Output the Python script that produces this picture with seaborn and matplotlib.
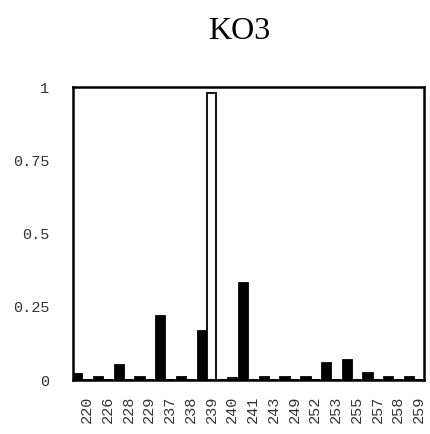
import seaborn as sns
import matplotlib.pyplot as plt
import pandas as pd

# allele frequencies, two samples (filled / open bars)
alleles = ['220', '226', '228', '229', '237', '238', '239', '240', '241',
           '243', '249', '252', '253', '255', '257', '258', '259']
filled = [0.02, 0.01, 0.05, 0.01, 0.22, 0.01, 0.167, 0.0, 0.33,
          0.01, 0.01, 0.01, 0.057, 0.068, 0.023, 0.01, 0.01]
opened = [0.0, 0.0, 0.0, 0.0, 0.0, 0.0, 0.98, 0.006, 0.0,
          0.0, 0.0, 0.0, 0.0, 0.0, 0.0, 0.0, 0.0]
y_ticks = [0, 0.25, 0.5, 0.75, 1]
y_labels = ['0', '0.25', '0.5', '0.75', '1']

df = pd.DataFrame({
    'allele': alleles * 2,
    'freq': filled + opened,
    'set': ['filled'] * len(alleles) + ['open'] * len(alleles),
})

sns.set_style('white')
fig = plt.figure(figsize=(4.3, 4.34), dpi=100)
ax = fig.add_axes([0.170, 0.1244, 0.816, 0.6751])
sns.barplot(data=df, x='allele', y='freq', hue='set', order=alleles,
            hue_order=['filled', 'open'], palette={'filled': 'black', 'open': 'white'},
            saturation=1, width=0.9, edgecolor='black', linewidth=1.3,
            legend=False, ax=ax)

ax.set_xlim(-0.45, 16.47)
ax.set_ylim(0, 1)
ax.set_xticks([i + 0.225 for i in range(len(alleles))])
ax.set_xticklabels(alleles, rotation=90, family='Liberation Mono', fontsize=11, color='#333333')
ax.set_yticks(y_ticks)
ax.set_yticklabels(y_labels, family='Liberation Mono', fontsize=11, color='#333333')
ax.tick_params(axis='x', length=0, pad=11)
ax.tick_params(axis='y', length=0, pad=17)
ax.set_xlabel('')
ax.set_ylabel('')
for s in ax.spines.values():
    s.set_visible(True)
    s.set_color('black')
    s.set_linewidth(1.8)

fig.text(0.556, 0.928, 'KO3', ha='center', va='center', color='black',
         family='Liberation Serif', fontsize=23)

fig.savefig('out.png', dpi=100, facecolor='white')
